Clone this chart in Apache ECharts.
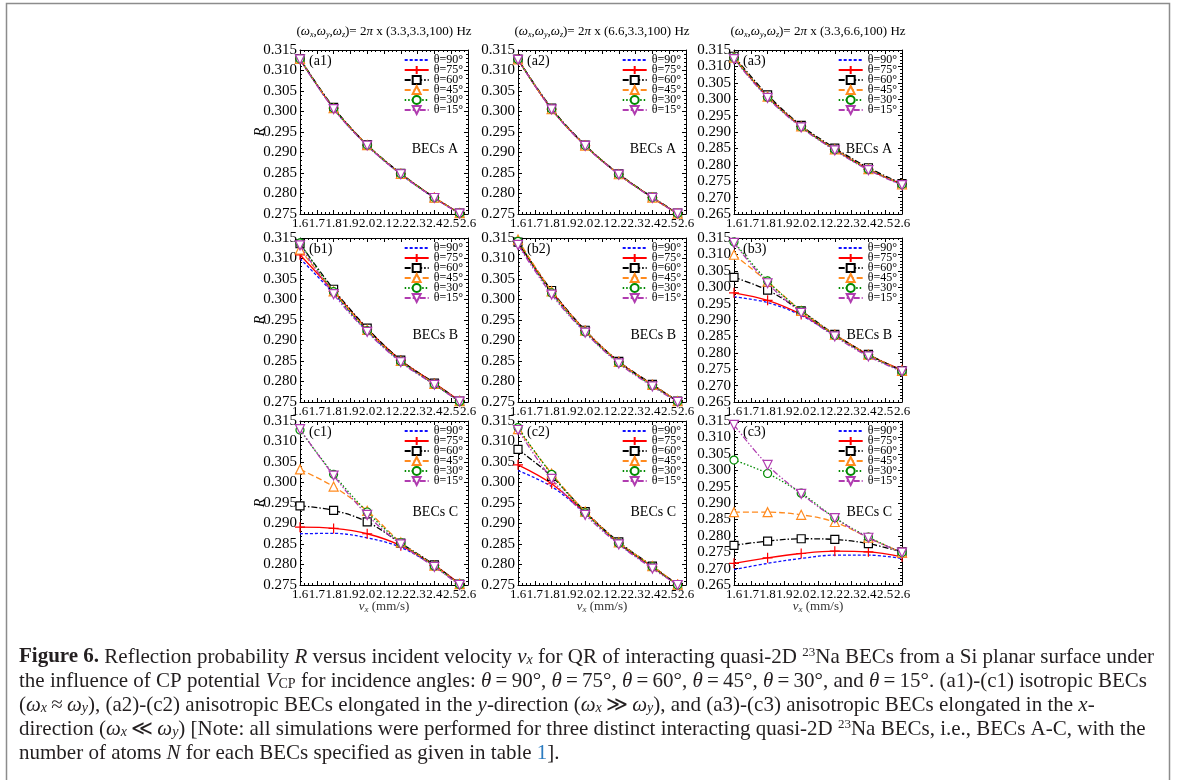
<!DOCTYPE html>
<html>
<head>
<meta charset="utf-8">
<script src="https://cdn.jsdelivr.net/npm/echarts@6/dist/echarts.min.js"></script>
<style>
  html, body { margin: 0; padding: 0; background: #ffffff; }
  #chart { width: 1179px; height: 780px; }
</style>
</head>
<body>
<div id="chart"></div>
<script>
// Incident velocities v_x (mm/s) at which R was computed
const vxShort = [1.6, 1.8, 2.0, 2.2, 2.4, 2.55];   // columns 1 and 2
const vxLong  = [1.6, 1.8, 2.0, 2.2, 2.4, 2.6];    // column 3

// Incidence angles, one series each
const angles = ['θ=90°', 'θ=75°', 'θ=60°', 'θ=45°', 'θ=30°', 'θ=15°'];

// Trap frequencies for each column
const trapFreqs = ['3.3,3.3,100', '6.6,3.3,100', '3.3,6.6,100'];
const panelTags = [['(a1)', '(a2)', '(a3)'], ['(b1)', '(b2)', '(b3)'], ['(c1)', '(c2)', '(c3)']];
const becNames = ['BECs A', 'BECs B', 'BECs C'];

// Axis ranges (lower R bound per column)
const yLow = [0.275, 0.275, 0.265];
const yHigh = 0.315;
const vxMin = 1.6, vxMax = 2.6;

// Reflection probability R, rows ordered θ = 90, 75, 60, 45, 30, 15
const a1 = [
  [0.3127, 0.3007, 0.2917, 0.2847, 0.2789, 0.2751],
  [0.3128, 0.3008, 0.2918, 0.2848, 0.2790, 0.2752],
  [0.3129, 0.3010, 0.2919, 0.2849, 0.2790, 0.2752],
  [0.3128, 0.3008, 0.2918, 0.2848, 0.2790, 0.2752],
  [0.3128, 0.3008, 0.2918, 0.2848, 0.2790, 0.2752],
  [0.3127, 0.3006, 0.2917, 0.2847, 0.2789, 0.2751]
];
const a2 = [
  [0.3127, 0.3006, 0.2917, 0.2847, 0.2790, 0.2751],
  [0.3127, 0.3006, 0.2917, 0.2847, 0.2790, 0.2751],
  [0.3128, 0.3008, 0.2918, 0.2848, 0.2791, 0.2752],
  [0.3127, 0.3006, 0.2917, 0.2847, 0.2790, 0.2751],
  [0.3127, 0.3006, 0.2917, 0.2847, 0.2790, 0.2751],
  [0.3126, 0.3005, 0.2916, 0.2846, 0.2789, 0.2751]
];
const a3 = [
  [0.3126, 0.3007, 0.2916, 0.2846, 0.2786, 0.2740],
  [0.3127, 0.3008, 0.2917, 0.2847, 0.2787, 0.2741],
  [0.3131, 0.3013, 0.2920, 0.2851, 0.2791, 0.2743],
  [0.3127, 0.3008, 0.2917, 0.2847, 0.2787, 0.2740],
  [0.3126, 0.3006, 0.2916, 0.2846, 0.2786, 0.2740],
  [0.3122, 0.3004, 0.2914, 0.2844, 0.2784, 0.2738]
];
const b1 = [
  [0.3100, 0.3015, 0.2923, 0.2849, 0.2793, 0.2752],
  [0.3109, 0.3020, 0.2928, 0.2852, 0.2796, 0.2753],
  [0.3136, 0.3025, 0.2930, 0.2852, 0.2796, 0.2752],
  [0.3122, 0.3020, 0.2926, 0.2850, 0.2794, 0.2752],
  [0.3138, 0.3019, 0.2924, 0.2849, 0.2793, 0.2751],
  [0.3132, 0.3013, 0.2921, 0.2847, 0.2792, 0.2751]
];
const b2 = [
  [0.3135, 0.3018, 0.2922, 0.2847, 0.2791, 0.2751],
  [0.3138, 0.3020, 0.2924, 0.2848, 0.2792, 0.2752],
  [0.3140, 0.3022, 0.2925, 0.2849, 0.2793, 0.2752],
  [0.3146, 0.3020, 0.2924, 0.2848, 0.2792, 0.2752],
  [0.3142, 0.3016, 0.2921, 0.2846, 0.2790, 0.2751],
  [0.3133, 0.3012, 0.2919, 0.2844, 0.2788, 0.2750]
];
const b3 = [
  [0.2971, 0.2953, 0.2914, 0.2853, 0.2792, 0.2745],
  [0.2983, 0.2960, 0.2917, 0.2855, 0.2794, 0.2748],
  [0.3030, 0.2991, 0.2928, 0.2856, 0.2795, 0.2746],
  [0.3099, 0.3017, 0.2928, 0.2855, 0.2794, 0.2745],
  [0.3138, 0.3019, 0.2928, 0.2853, 0.2792, 0.2744],
  [0.3135, 0.3012, 0.2922, 0.2850, 0.2789, 0.2743]
];
const c1 = [
  [0.2875, 0.2876, 0.2865, 0.2842, 0.2796, 0.2752],
  [0.2891, 0.2888, 0.2875, 0.2846, 0.2798, 0.2753],
  [0.2943, 0.2932, 0.2904, 0.2852, 0.2799, 0.2752],
  [0.3032, 0.2990, 0.2931, 0.2854, 0.2797, 0.2752],
  [0.3128, 0.3020, 0.2928, 0.2853, 0.2796, 0.2751],
  [0.3130, 0.3017, 0.2921, 0.2849, 0.2794, 0.2750]
];
const c2 = [
  [0.3029, 0.2990, 0.2925, 0.2850, 0.2793, 0.2751],
  [0.3043, 0.2997, 0.2927, 0.2852, 0.2794, 0.2751],
  [0.3081, 0.3015, 0.2929, 0.2855, 0.2796, 0.2751],
  [0.3130, 0.3022, 0.2929, 0.2854, 0.2796, 0.2751],
  [0.3134, 0.3020, 0.2926, 0.2852, 0.2794, 0.2750],
  [0.3128, 0.3009, 0.2921, 0.2849, 0.2790, 0.2750]
];
const c3 = [
  [0.2697, 0.2716, 0.2731, 0.2741, 0.2741, 0.2731],
  [0.2716, 0.2733, 0.2746, 0.2753, 0.2751, 0.2736],
  [0.2771, 0.2784, 0.2791, 0.2789, 0.2776, 0.2751],
  [0.2872, 0.2872, 0.2864, 0.2842, 0.2794, 0.2749],
  [0.3031, 0.2990, 0.2930, 0.2855, 0.2796, 0.2749],
  [0.3138, 0.3016, 0.2928, 0.2854, 0.2794, 0.2749]
];

const panels = [[a1, a2, a3], [b1, b2, b3], [c1, c2, c3]];
const vxByColumn = [vxShort, vxShort, vxLong];

// Line and marker style per angle
const lineLook = [
  { color: '#1010ff', dash: [3, 2],                 symbol: 'none',     size: 0, rotate: 0 },
  { color: '#ff0000', dash: 'solid',                symbol: 'path://M5,0L5,10M0,5L10,5', size: 10, rotate: 0 },
  { color: '#000000', dash: [6, 2, 1.5, 2],         symbol: 'rect',     size: 8, rotate: 0 },
  { color: '#ff8a1e', dash: [6, 3],                 symbol: 'triangle', size: 9, rotate: 0 },
  { color: '#008a00', dash: [1.5, 2],               symbol: 'circle',   size: 8, rotate: 0 },
  { color: '#b03cb0', dash: [6, 2, 1.5, 2, 1.5, 2], symbol: 'triangle', size: 9, rotate: 180 }
];

// Layout of the 3 x 3 panel grid
const FONT = 'Liberation Serif';
const W = 1179;
const colLeft = [300, 518, 734];
const rowTop = [50, 238, 421];
const plotW = 168, plotH = 164;
const becOffset = [99, 97, 91];

const grid = [], xAxis = [], yAxis = [], series = [], legend = [], graphic = [];

const tickStyle = { color: '#000', width: 1 };
const lineAxis = { show: true, onZero: false, lineStyle: { color: '#000', width: 1 } };
const clear = 'rgba(0,0,0,0)';

for (let r = 0; r < 3; r++) {
  for (let c = 0; c < 3; c++) {
    const g = r * 3 + c;
    grid.push({ left: colLeft[c], top: rowTop[r], width: plotW, height: plotH, outerBoundsMode: 'none' });

    const xBase = {
      gridIndex: g, type: 'value', min: vxMin, max: vxMax, interval: 0.1,
      axisLine: lineAxis, splitLine: { show: false },
      axisTick: { show: true, inside: true, length: 4, lineStyle: tickStyle },
      minorTick: { show: true, splitNumber: 4, length: 2, lineStyle: tickStyle }
    };
    const xBottom = Object.assign({}, xBase, {
      position: 'bottom',
      axisLabel: {
        show: true, formatter: v => v.toFixed(1), fontFamily: FONT, fontSize: 13, color: '#000', margin: 3,
        hideOverlap: false
      }
    });
    if (r === 2) {
      Object.assign(xBottom, {
        name: '{v|v}{s|x} (mm/s)', nameLocation: 'middle', nameGap: 15, nameMoveOverlap: false,
        nameTextStyle: {
          fontFamily: FONT, fontSize: 13, color: '#333', lineHeight: 14,
          rich: {
            v: { fontFamily: FONT, fontSize: 13, fontStyle: 'italic', color: '#333', lineHeight: 14 },
            s: { fontFamily: FONT, fontSize: 9, fontStyle: 'italic', color: '#333', lineHeight: 6, verticalAlign: 'bottom' }
          }
        }
      });
    }
    xAxis.push(xBottom);
    xAxis.push(Object.assign({}, xBase, { position: 'top', axisLabel: { show: false } }));

    const yBase = {
      gridIndex: g, type: 'value', min: yLow[c], max: yHigh, interval: 0.005,
      axisLine: lineAxis, splitLine: { show: false },
      axisTick: { show: true, inside: true, length: 4, lineStyle: tickStyle },
      minorTick: { show: true, splitNumber: 5, length: 2, lineStyle: tickStyle }
    };
    const yLeft = Object.assign({}, yBase, {
      position: 'left',
      axisLabel: {
        show: true, formatter: v => v.toFixed(3), fontFamily: FONT, fontSize: 15, color: '#000', margin: 3,
        showMinLabel: true, showMaxLabel: true, hideOverlap: false
      }
    });
    if (c === 0) {
      Object.assign(yLeft, {
        name: 'R', nameLocation: 'middle', nameGap: 33, nameRotate: 90, nameMoveOverlap: false,
        nameTextStyle: { fontFamily: FONT, fontSize: 14, fontStyle: 'italic', color: '#000' }
      });
    }
    yAxis.push(yLeft);
    yAxis.push(Object.assign({}, yBase, { position: 'right', axisLabel: { show: false } }));

    const vx = vxByColumn[c];
    const rows = panels[r][c];
    angles.forEach((name, k) => {
      const look = lineLook[k];
      const noMarker = look.symbol === 'none';
      series.push({
        type: 'line', name,
        xAxisIndex: 2 * g, yAxisIndex: 2 * g,
        data: vx.map((x, i) => [x, rows[k][i]]),
        smooth: 0.35,
        symbol: look.symbol, symbolSize: look.size, symbolRotate: look.rotate,
        showSymbol: !noMarker,
        lineStyle: { color: look.color, width: 1.3, type: look.dash },
        itemStyle: noMarker
          ? { color: clear, borderColor: clear, borderWidth: 0 }
          : { color: k === 1 ? look.color : '#ffffff', borderColor: look.color, borderWidth: 1.2 },
        emphasis: { disabled: true },
        silent: true,
        animation: false,
        z: 2 + k
      });
    });

    legend.push({
      data: angles, orient: 'vertical',
      right: W - (colLeft[c] + plotW) + 5, top: rowTop[r] + 4,
      itemWidth: 24, itemHeight: 10, itemGap: -2, padding: 0,
      selectedMode: false,
      textStyle: { fontFamily: FONT, fontSize: 12, color: '#000', lineHeight: 10 }
    });

    graphic.push({
      type: 'text', x: colLeft[c] + 9, y: rowTop[r] + 11,
      style: { text: panelTags[r][c], fontFamily: FONT, fontSize: 14, fill: '#000', align: 'left', verticalAlign: 'middle' }
    });
    graphic.push({
      type: 'text', x: colLeft[c] + plotW - 10, y: rowTop[r] + becOffset[r],
      style: { text: becNames[r], fontFamily: FONT, fontSize: 14, fill: '#000', align: 'right', verticalAlign: 'middle' }
    });
  }
}

// Column headers: trap frequencies
const headRich = {
  w: { fontFamily: FONT, fontSize: 13, fontStyle: 'italic', fill: '#000', lineHeight: 14 },
  s: { fontFamily: FONT, fontSize: 8, fontStyle: 'italic', fill: '#000', lineHeight: 6, verticalAlign: 'bottom' }
};
trapFreqs.forEach((f, c) => {
  graphic.push({
    type: 'text', x: colLeft[c] + plotW / 2, y: 32,
    style: {
      text: '({w|ω}{s|x},{w|ω}{s|y},{w|ω}{s|z})= 2{w|π} x (' + f + ') Hz',
      fontFamily: FONT, fontSize: 13, lineHeight: 14, fill: '#000',
      align: 'center', verticalAlign: 'middle', rich: headRich
    }
  });
});

// Caption
const capSize = 21;
const capColor = '#231f20';
const capRich = {
  b:   { fontFamily: FONT, fontSize: capSize, fontWeight: 'bold', fill: capColor, lineHeight: 21 },
  i:   { fontFamily: FONT, fontSize: capSize, fontStyle: 'italic', fill: capColor, lineHeight: 21 },
  sb:  { fontFamily: FONT, fontSize: 14, fontStyle: 'italic', fill: capColor, lineHeight: 7, verticalAlign: 'bottom' },
  sr:  { fontFamily: FONT, fontSize: 14, fill: capColor, lineHeight: 7, verticalAlign: 'bottom' },
  sp:  { fontFamily: FONT, fontSize: 13, fill: capColor, lineHeight: 14, verticalAlign: 'top' },
  lk:  { fontFamily: FONT, fontSize: capSize, fill: '#2b7bc0', lineHeight: 21 }
};
const ts = '\u2009';
const eq = ts + '=' + ts;
const captionLines = [
  '{b|Figure 6.} Reflection probability {i|R} versus incident velocity {i|v}{sb|x} for QR of interacting quasi-2D {sp|23}Na BECs from a Si planar surface under',
  'the influence of CP potential {i|V}{sr|CP} for incidence angles: {i|θ}' + eq + '90°, {i|θ}' + eq + '75°, {i|θ}' + eq + '60°, {i|θ}' + eq + '45°, {i|θ}' + eq + '30°, and {i|θ}' + eq + '15°. (a1)-(c1) isotropic BECs',
  '({i|ω}{sb|x}' + ts + '≈' + ts + '{i|ω}{sb|y}), (a2)-(c2) anisotropic BECs elongated in the {i|y}-direction ({i|ω}{sb|x}' + ts + '≫' + ts + '{i|ω}{sb|y}), and (a3)-(c3) anisotropic BECs elongated in the {i|x}-',
  'direction ({i|ω}{sb|x}' + ts + '≪' + ts + '{i|ω}{sb|y}) [Note: all simulations were performed for three distinct interacting quasi-2D {sp|23}Na BECs, i.e., BECs A-C, with the',
  'number of atoms {i|N} for each BECs specified as given in table {lk|1}].'
];
const captionY = [657, 681, 705, 729, 753];
captionLines.forEach((t, i) => {
  graphic.push({
    type: 'text', x: 19, y: captionY[i],
    style: {
      text: t, fontFamily: FONT, fontSize: capSize, lineHeight: 21, fill: capColor,
      align: 'left', verticalAlign: 'middle', rich: capRich
    }
  });
});

// Figure frame
graphic.push({
  type: 'rect', shape: { x: 6.5, y: 3.5, width: 1163, height: 800 },
  style: { fill: 'none', stroke: '#8c8c8c', lineWidth: 1.5 }, z: -1
});

const chart = echarts.init(document.getElementById('chart'), null, { renderer: 'canvas' });
chart.setOption({
  backgroundColor: '#ffffff',
  animation: false,
  grid, xAxis, yAxis, series, legend, graphic
});
</script>
</body>
</html>
